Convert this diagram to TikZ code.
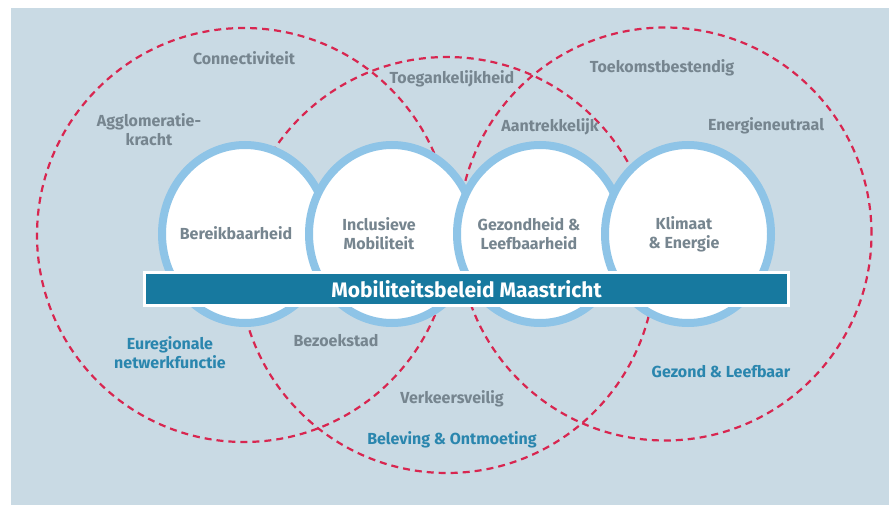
\documentclass[tikz,border=0pt]{standalone}
\usepackage{fontspec}
\setmainfont{Fira Sans}
\usetikzlibrary{shapes}
\definecolor{bgblue}{HTML}{C9DAE4}
\definecolor{zonered}{HTML}{D82650}
\definecolor{ringblue}{HTML}{8EC4E7}
\definecolor{barblue}{HTML}{17799F}
\definecolor{textgrey}{HTML}{76858F}
\definecolor{textteal}{HTML}{2A86AE}
\tikzset{zone/.style = {draw=zonered, line width=2.2pt, dash pattern=on 7pt off 5pt}}
\tikzset{pillar/.style = {shape=ellipse, fill=white, draw=ringblue, line width=8pt, minimum width=166pt, minimum height=178pt, inner sep=0pt}}

\begin{document}
\begin{tikzpicture}[x=1pt,y=-1pt]
		\tikzset{theme/.style = {text=textgrey, font=\bfseries\fontsize{16}{19}\selectfont, align=center}}
		\tikzset{goal/.style = {text=textteal, font=\bfseries\fontsize{16}{19}\selectfont, align=center}}
		\tikzset{policy/.style = {fill=barblue, draw=white, line width=3pt, minimum width=644pt, minimum height=33pt, text=white, font=\bfseries\fontsize{21}{24}\selectfont}}
		% background
		\fill[white] (0,0) rectangle (889,505);
		\fill[bgblue] (11,8) rectangle (889,505);
		\useasboundingbox (0,0) rectangle (889,505);
		% zones
		\draw[zone] (244,235) circle (207pt);
		\draw[zone] (447,265) circle (208pt);
		\draw[zone] (665,234) circle (206.5pt);
		% zone labels
		\node[theme] (conn) at (244,58) {Connectiviteit};
		\node[theme] (aggl) at (149,130) {Agglomeratie-\\kracht};
		\node[theme] (toeg) at (452,79) {Toegankelijkheid};
		\node[theme] (aantr) at (550,127) {Aantrekkelijk};
		\node[theme] (toek) at (662,68) {Toekomstbestendig};
		\node[theme] (energ) at (766,126) {Energieneutraal};
		\node[theme] (bezoek) at (336,341) {Bezoekstad};
		\node[theme] (verkeer) at (452,399) {Verkeersveilig};
		\node[goal] (euregio) at (170,353) {Euregionale\\netwerkfunctie};
		\node[goal] (beleving) at (452,440) {Beleving \& Ontmoeting};
		\node[goal] (gezond) at (721,372) {Gezond \& Leefbaar};
		% pillars
		\node[pillar] (p1) at (245,234) {};
		\node[pillar] (p2) at (392,234) {};
		\node[pillar] (p3) at (540,234) {};
		\node[pillar] (p4) at (688,234) {};
		\node[theme] (t1) at (236,233) {Bereikbaarheid};
		\node[theme] (t2) at (379,234) {Inclusieve\\Mobiliteit};
		\node[theme] (t3) at (529,234) {Gezondheid \&\\Leefbaarheid};
		\node[theme] (t4) at (684,234) {Klimaat\\\& Energie};
		% policy bar
		\node[policy] (beleid) at (466.5,289) {Mobiliteitsbeleid Maastricht};
	\end{tikzpicture}
\end{document}
